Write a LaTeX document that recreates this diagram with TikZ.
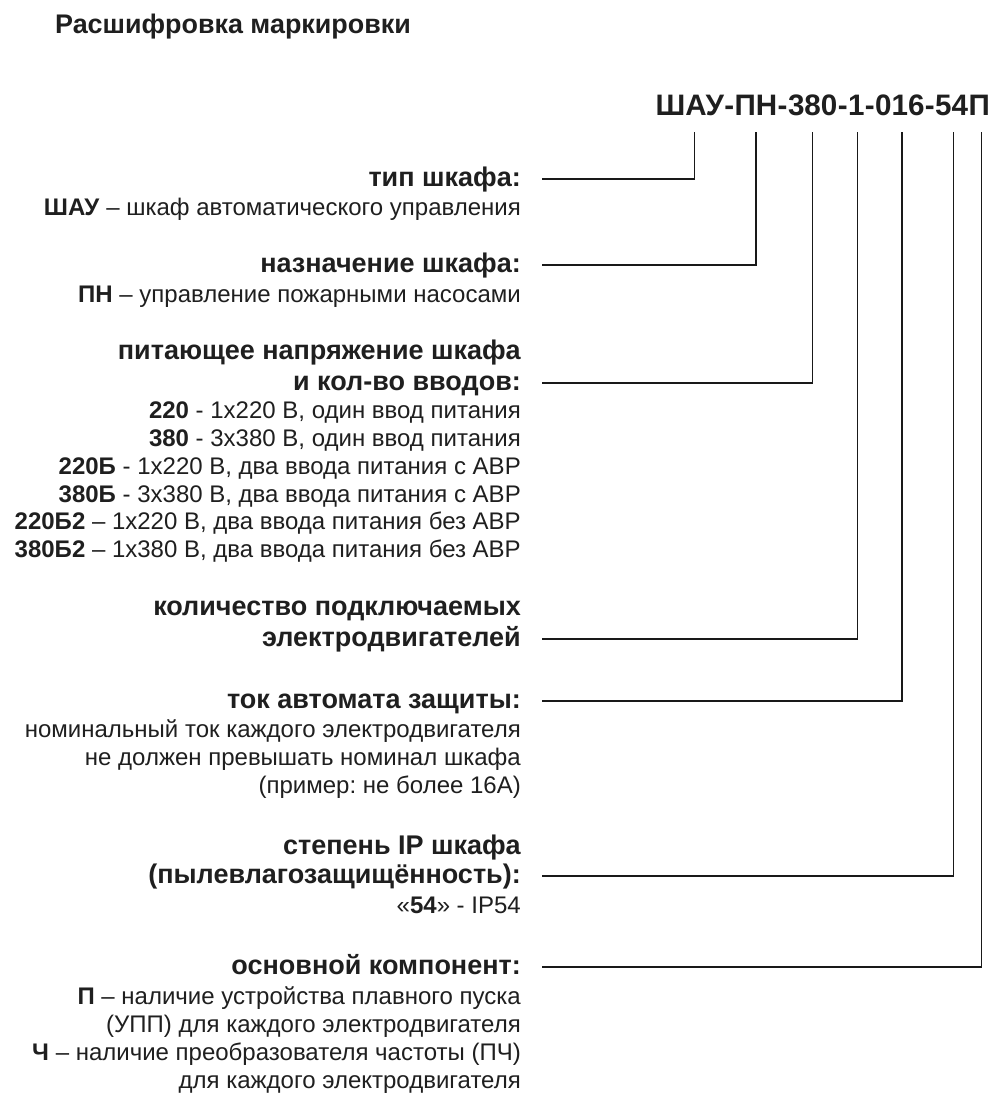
\documentclass[tikz,border=0pt]{standalone}
\usepackage{fontspec}
\setmainfont{Liberation Sans}
\frenchspacing
\usetikzlibrary{calc}
\tikzset{
  hdr/.style={anchor=base east, inner sep=0pt, font=\fontsize{27}{30}\selectfont\bfseries, text=black!88},
  bodytxt/.style={anchor=base east, inner sep=0pt, font=\fontsize{24}{28}\selectfont, text=black!88},
  codepart/.style={anchor=base east, inner sep=0pt, font=\fontsize{29.6}{34}\selectfont\bfseries, text=black!88},
  ttl/.style={anchor=base west, inner sep=0pt, font=\fontsize{26.9}{30}\selectfont\bfseries, text=black!88},
  lead/.style={line width=1.3pt, black!90}
}
\begin{document}
\begin{tikzpicture}[x=1pt,y=1pt]
\useasboundingbox[fill=white] (0,0) rectangle (1000,-1096);
% title
\node[ttl] (title) at (55,-33) {Расшифровка маркировки};
% code, built from the right
\node[codepart] (k12) at (990,-115) {П};
\node[codepart] (k11) at (k12.base west) {54};
\node[codepart] (k10) at (k11.base west) {-};
\node[codepart] (k9) at (k10.base west) {016};
\node[codepart] (k8) at (k9.base west) {-};
\node[codepart] (k7) at (k8.base west) {1};
\node[codepart] (k6) at (k7.base west) {-};
\node[codepart] (k5) at (k6.base west) {380};
\node[codepart] (k4) at (k5.base west) {-};
\node[codepart] (k3) at (k4.base west) {ПН};
\node[codepart] (k2) at (k3.base west) {-};
\node[codepart] (k1) at (k2.base west) {ШАУ};
% tops of the leader lines
\foreach \k/\t/\dx in {k1/t1/5,k3/t2/0,k5/t3/0,k7/t4/1,k9/t5/2,k11/t6/2,k12/t7/2}
  \coordinate (\t) at ($(\k.base)+(\dx,-17)$);
% block 1
\node[hdr] (h1) at (521,-186) {тип шкафа:};
\node[bodytxt] (b1) at (521,-215) {\textbf{ШАУ} – шкаф автоматического управления};
% block 2
\node[hdr] (h2) at (521,-272) {назначение шкафа:};
\node[bodytxt] (b2) at (521,-302) {\textbf{ПН} – управление пожарными насосами};
% block 3
\node[hdr] (h3a) at (521,-359) {питающее напряжение шкафа};
\node[hdr] (h3) at (521,-390) {и кол-во вводов:};
\node[bodytxt] (l1) at (521,-418) {\textbf{220} - 1x220 В, один ввод питания};
\node[bodytxt] (l2) at (521,-446) {\textbf{380} - 3x380 В, один ввод питания};
\node[bodytxt] (l3) at (521,-474) {\textbf{220Б} - 1x220 В, два ввода питания с АВР};
\node[bodytxt] (l4) at (521,-502) {\textbf{380Б} - 3x380 В, два ввода питания с АВР};
\node[bodytxt] (l5) at (521,-529) {\textbf{220Б2} – 1x220 В, два ввода питания без АВР};
\node[bodytxt] (l6) at (521,-557) {\textbf{380Б2} – 1x380 В, два ввода питания без АВР};
% block 4
\node[hdr] (h4a) at (521,-615) {количество подключаемых};
\node[hdr] (h4) at (521,-646) {электродвигателей};
% block 5
\node[hdr] (h5) at (521,-708) {ток автомата защиты:};
\node[bodytxt] (m1) at (521,-737) {номинальный ток каждого электродвигателя};
\node[bodytxt] (m2) at (521,-765) {не должен превышать номинал шкафа};
\node[bodytxt] (m3) at (521,-793) {(пример: не более 16А)};
% block 6
\node[hdr] (h6a) at (521,-854) {степень IP шкафа};
\node[hdr] (h6) at (521,-883) {(пылевлагозащищённость):};
\node[bodytxt] (p1) at (521,-913) {«\textbf{54}» - IP54};
% block 7
\node[hdr] (h7) at (521,-974) {основной компонент:};
\node[bodytxt] (q1) at (521,-1004) {\textbf{П} – наличие устройства плавного пуска};
\node[bodytxt] (q2) at (521,-1032) {(УПП) для каждого электродвигателя};
\node[bodytxt] (q3) at (521,-1060) {\textbf{Ч} – наличие преобразователя частоты (ПЧ)};
\node[bodytxt] (q4) at (521,-1088) {для каждого электродвигателя};
% leader lines
\foreach \h/\t in {h1/t1,h2/t2,h3/t3,h4/t4,h5/t5,h6/t6,h7/t7}{
  \coordinate (s-\h) at ($(\h.base east)+(21,7)$);
  \draw[lead] (s-\h) -| (\t);
}
\end{tikzpicture}
\end{document}
